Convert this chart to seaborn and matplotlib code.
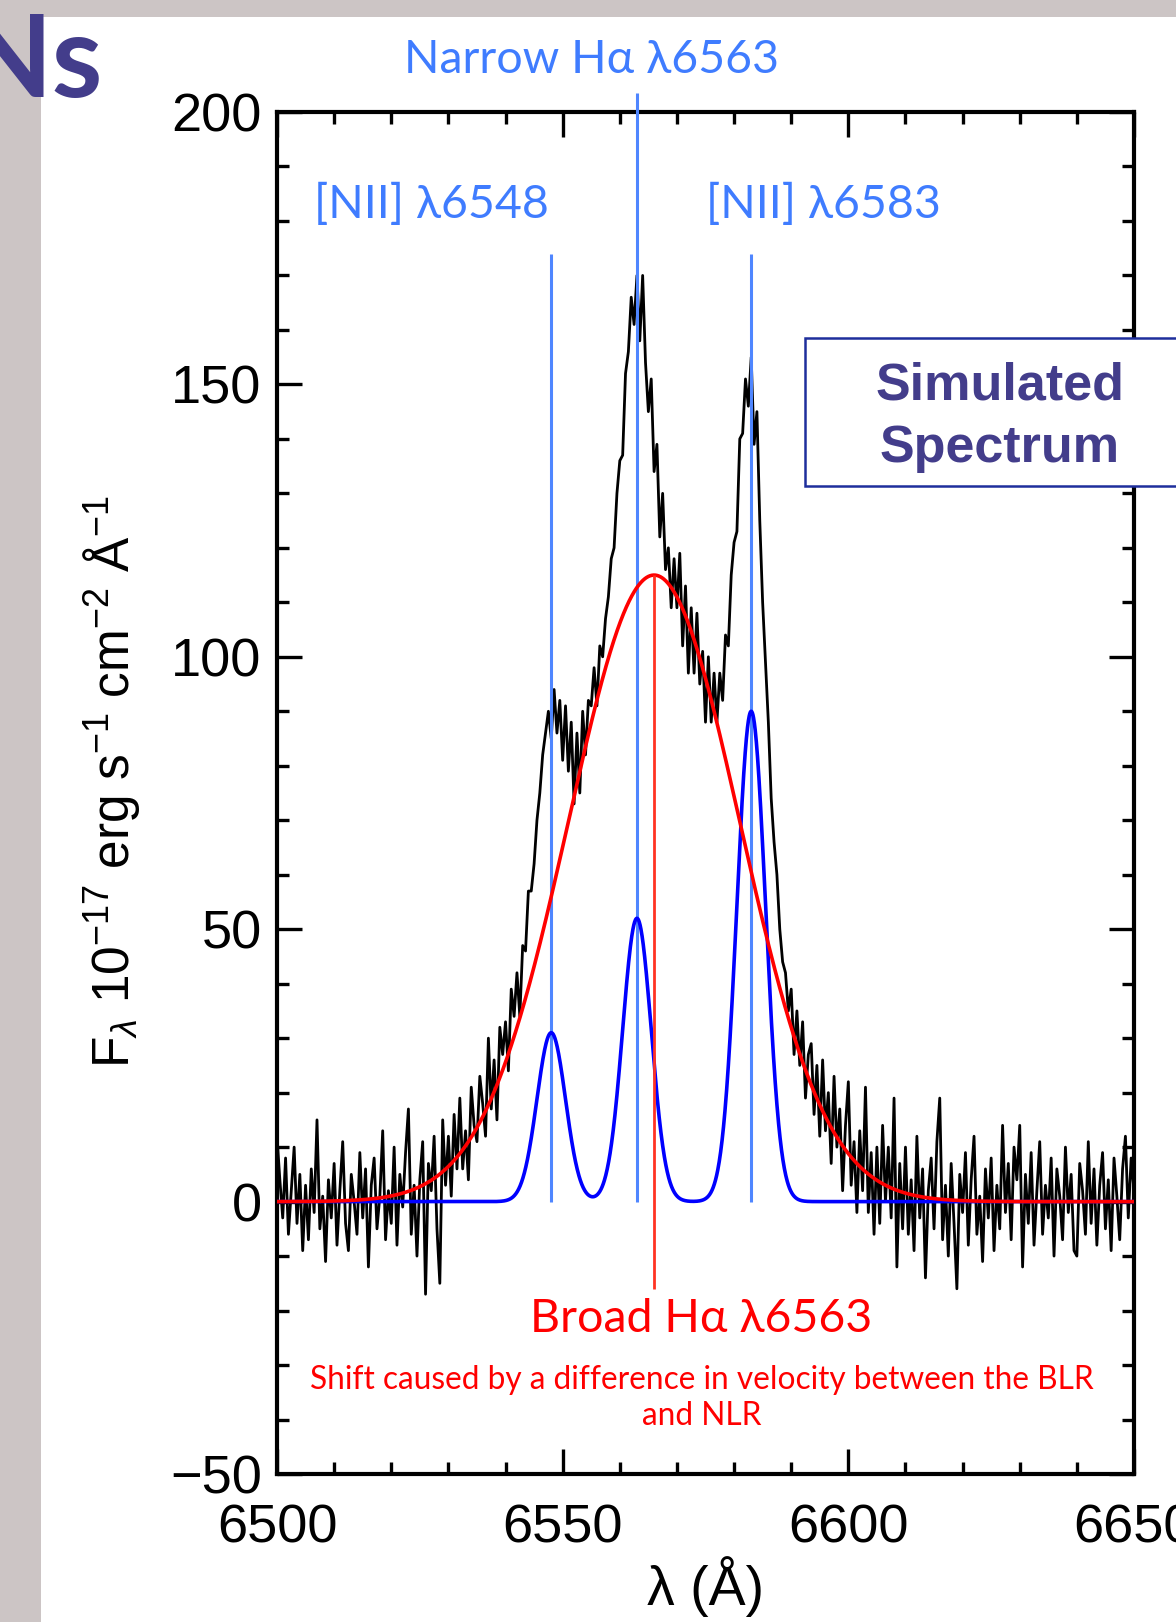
import numpy as np
import pandas as pd
import matplotlib
matplotlib.use("Agg")
import matplotlib.pyplot as plt
from matplotlib.patches import Rectangle
from matplotlib.ticker import MultipleLocator
import seaborn as sns

# ---------------------------------------------------------------------------
# Observed flux (10^-17 erg s^-1 cm^-2 Å^-1), sampled every 0.5 Å, 6500-6650 Å
wave_start, wave_stop, wave_step = 6500.0, 6650.0, 0.5
flux = [
    12, 4, -3, 8, -6, 2, 10, -4, 5, -9,
    3, -7, 6, -2, 15, -5, 1, -11, 4, -3,
    7, -8, 2, 11, -4, -9, 5, 0, -6, 9,
    -3, 6, -12, 3, 8, -5, 1, 13, -7, 2,
    -4, 10, -8, 5, -1, 9, 17, -6, 3, -10,
    4, 11, -17, 7, 2, 12, -5, -15, 15, 3,
    12, 1, 16, 6, 19, 6, 13, 4, 21, 14,
    11, 23, 18, 12, 30, 17, 26, 15, 32, 27,
    33, 24, 39, 34, 42, 34, 47, 46, 57, 57,
    62, 70, 75, 82, 86, 90, 85, 94, 86, 92,
    81, 91, 79, 88, 73, 86, 75, 90, 82, 92,
    91, 98, 91, 102, 100, 107, 111, 118, 120, 130,
    136, 137, 152, 156, 166, 161, 170, 158, 170, 154,
    145, 151, 134, 139, 122, 130, 116, 120, 109, 118,
    109, 119, 102, 113, 97, 109, 97, 108, 95, 101,
    88, 100, 88, 97, 88, 97, 92, 104, 102, 115,
    121, 123, 140, 141, 151, 146, 155, 139, 145, 125,
    110, 99, 88, 74, 66, 60, 50, 44, 42, 35,
    39, 27, 35, 25, 33, 19, 27, 29, 16, 25,
    12, 26, 13, 20, 7, 23, 10, 17, 2, 14,
    22, 3, 11, -2, 13, 2, 21, -2, 9, -6,
    10, -4, 14, 0, 10, -3, 19, -12, 7, -5,
    10, -6, 4, -9, 12, -3, 6, -14, 2, 8,
    -5, 11, 19, -7, 3, -10, 7, -4, -16, 5,
    -2, 9, -8, 4, 12, -6, 1, -11, 6, -3,
    8, -9, 3, -5, 14, -2, 7, -7, 10, 4,
    14, -12, 5, -4, 9, -8, 2, 11, -6, 3,
    -3, 8, -10, 6, 1, -7, 10, -2, 5, -9,
    -10, 7, 2, -6, 11, -4, 6, -8, 3, 9,
    -5, 4, -9, 8, 1, -7, 6, 12, -3, 8,
    2,
]

# Fitted Gaussian components
broad_center = 6566.0
broad_peak = 115.0
broad_sigma = 15.0

narrow_centers = [6548.0, 6563.0, 6583.0]
narrow_peaks = [31.0, 52.0, 90.0]
narrow_sigma = 2.5

narrow_labels = ["[NII] λ6548", "Narrow Hα λ6563", "[NII] λ6583"]
broad_label = "Broad Hα λ6563"
shift_note = "Shift caused by a difference in velocity between the BLR\nand NLR"

x_ticks = [6500, 6550, 6600, 6650]
y_ticks = [-50, 0, 50, 100, 150, 200]

# ---------------------------------------------------------------------------
W, H, DPI = 1176, 1622, 100
PURPLE = "#433D8B"
LINE_BLUE = "#4F86FF"
TEXT_BLUE = "#3F7CFF"
RED = "#FF0000"
GRAY = "#CCC5C5"

sns.set_theme(style="ticks")
plt.rcParams["font.family"] = ["Liberation Sans", "DejaVu Sans"]
plt.rcParams["mathtext.fontset"] = "custom"
plt.rcParams["mathtext.rm"] = "Liberation Sans"
plt.rcParams["mathtext.it"] = "Liberation Sans:italic"
plt.rcParams["mathtext.bf"] = "Liberation Sans:bold"
plt.rcParams["axes.unicode_minus"] = True

ANNOT_FONT = ["Lato", "Noto Sans", "DejaVu Sans"]

wave = np.arange(wave_start, wave_stop + wave_step / 2, wave_step)
spec = pd.DataFrame({"wave": wave, "flux": flux})

grid = np.linspace(wave_start, wave_stop, 3001)
broad = broad_peak * np.exp(-0.5 * ((grid - broad_center) / broad_sigma) ** 2)
narrow = np.zeros_like(grid)
for c, a in zip(narrow_centers, narrow_peaks):
    narrow += a * np.exp(-0.5 * ((grid - c) / narrow_sigma) ** 2)
model = pd.DataFrame({"wave": grid, "broad": broad, "narrow": narrow})

fig = plt.figure(figsize=(W / DPI, H / DPI), dpi=DPI, facecolor="white")

# slide frame: grey strips on the left and top edges
fig.patches.append(Rectangle((0, 0), 41 / W, 1, transform=fig.transFigure,
                             facecolor=GRAY, edgecolor="none", zorder=0))
fig.patches.append(Rectangle((0, 1 - 17 / H), 1, 17 / H, transform=fig.transFigure,
                             facecolor=GRAY, edgecolor="none", zorder=0))

ax = fig.add_axes([277 / W, 1 - 1474 / H, (1134 - 277) / W, (1474 - 112) / H])
ax.set_facecolor("none")

sns.lineplot(data=spec, x="wave", y="flux", color="black", lw=2.0,
             ax=ax, zorder=2, sort=False)

# rest wavelength markers of the narrow lines
marker_tops = [174, 203.5, 174]
for c, top in zip(narrow_centers, marker_tops):
    ax.plot([c, c], [0, top], color=LINE_BLUE, lw=2.2, zorder=3,
            clip_on=False, solid_capstyle="butt")

sns.lineplot(data=model, x="wave", y="narrow", color="#0000FF", lw=2.6,
             ax=ax, zorder=4)
sns.lineplot(data=model, x="wave", y="broad", color=RED, lw=2.6,
             ax=ax, zorder=5)
ax.plot([broad_center, broad_center], [broad_peak, -16], color="#FF3322",
        lw=2.0, zorder=6, solid_capstyle="butt")

ax.set_xlim(wave_start, wave_stop)
ax.set_ylim(-50, 200)
ax.set_xticks(x_ticks)
ax.set_yticks(y_ticks)
ax.xaxis.set_minor_locator(MultipleLocator(10))
ax.yaxis.set_minor_locator(MultipleLocator(10))
ax.tick_params(which="both", direction="in", top=True, right=True,
               width=2.4, color="black", labelsize=39, labelcolor="black")
ax.tick_params(which="major", length=18)
ax.tick_params(which="minor", length=8.5)
ax.tick_params(axis="x", which="major", pad=21)
ax.tick_params(axis="y", which="major", pad=11)
for sp in ax.spines.values():
    sp.set_linewidth(3)
    sp.set_color("black")

ax.set_xlabel("λ (Å)", fontsize=40, labelpad=2, color="black")
ax.set_ylabel(r"F$_\lambda$ 10$^{-17}$ erg s$^{-1}$ cm$^{-2}$ Å$^{-1}$",
              fontsize=37, color="black")
ax.yaxis.set_label_coords(-0.158, 0.508)

# line identifications
ax.text(6555.1, 209.6, narrow_labels[1], color=TEXT_BLUE, fontsize=33.5,
        family=ANNOT_FONT, ha="center", va="center", clip_on=False)
ax.text(6527.1, 183.0, narrow_labels[0], color=TEXT_BLUE, fontsize=33.5,
        family=ANNOT_FONT, ha="center", va="center")
ax.text(6595.6, 183.0, narrow_labels[2], color=TEXT_BLUE, fontsize=33.5,
        family=ANNOT_FONT, ha="center", va="center")
ax.text(6574.3, -21.6, broad_label, color=RED, fontsize=33.5,
        family=ANNOT_FONT, ha="center", va="center")
ax.text(6574.3, -36.0, shift_note, color=RED, fontsize=22.8,
        family=ANNOT_FONT, ha="center", va="center", linespacing=1.25)

# "Simulated Spectrum" box running off the right edge
fig.patches.append(Rectangle((805 / W, 1 - 486 / H), 0.5, 148 / H,
                             transform=fig.transFigure, facecolor="white",
                             edgecolor="#1E2E9C", lw=1.8, zorder=10))
fig.text(1000 / W, 1 - 400 / H, "Simulated", color=PURPLE, fontsize=37.5,
         fontweight="bold", ha="center", va="baseline", zorder=11)
fig.text(1000 / W, 1 - 462 / H, "Spectrum", color=PURPLE, fontsize=37.5,
         fontweight="bold", ha="center", va="baseline", zorder=11)

# slide title fragment at the top-left corner
fig.text(103 / W, 1 - 97 / H, "Ns", color=PURPLE, fontsize=83,
         fontweight="bold", family=ANNOT_FONT, ha="right", va="baseline",
         zorder=11)

fig.savefig("out.png", dpi=DPI, facecolor="white")
